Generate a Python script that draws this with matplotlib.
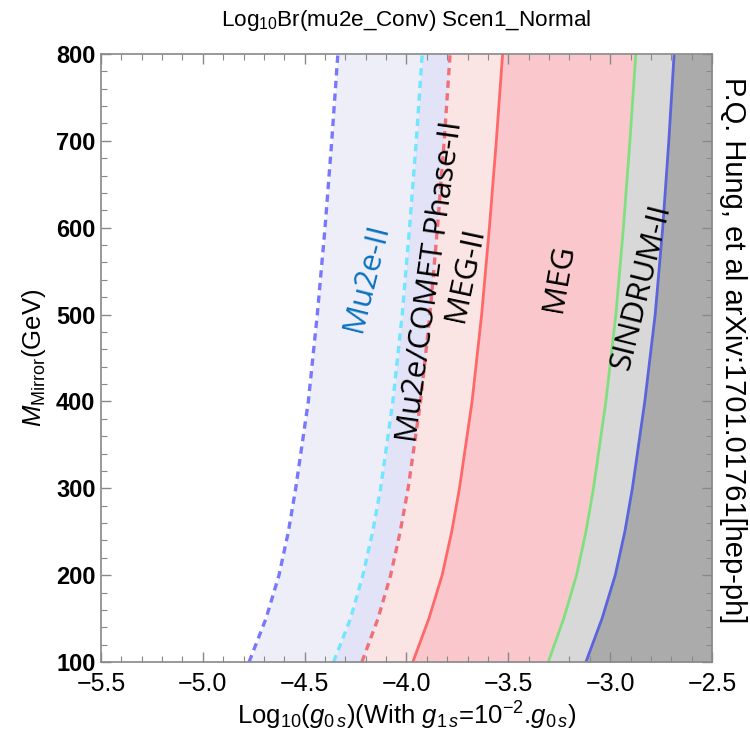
import matplotlib
matplotlib.use('Agg')
import matplotlib.pyplot as plt
from matplotlib.ticker import MultipleLocator

plt.rcParams['font.family'] = ['Liberation Sans', 'DejaVu Sans']
plt.rcParams['mathtext.fontset'] = 'custom'
plt.rcParams['mathtext.rm'] = 'Liberation Sans'
plt.rcParams['mathtext.it'] = 'Liberation Sans:italic'
plt.rcParams['mathtext.bf'] = 'Liberation Sans:bold'

# Data
M = [100, 150, 200, 250, 300, 400, 500, 600, 700, 800]
mu2e_ii = [-4.773, -4.690, -4.626, -4.580, -4.544, -4.482, -4.438, -4.400, -4.367, -4.337]
mu2e_comet = [-4.358, -4.275, -4.214, -4.166, -4.127, -4.067, -4.021, -3.985, -3.952, -3.923]
meg_ii = [-4.219, -4.140, -4.078, -4.031, -3.992, -3.931, -3.885, -3.848, -3.815, -3.786]
meg = [-3.969, -3.890, -3.825, -3.778, -3.740, -3.678, -3.631, -3.593, -3.559, -3.528]
green_lim = [-3.304, -3.228, -3.165, -3.119, -3.082, -3.021, -2.972, -2.935, -2.903, -2.874]
sindrum = [-3.119, -3.040, -2.975, -2.928, -2.891, -2.830, -2.779, -2.742, -2.712, -2.686]

x_ticks = [-5.5, -5.0, -4.5, -4.0, -3.5, -3.0, -2.5]
y_ticks = [100, 200, 300, 400, 500, 600, 700, 800]

labels = ["Mu2e-II", "Mu2e/COMET Phase-II", "MEG-II", "MEG", "SINDRUM-II"]
label_x = [-4.195, -3.882, -3.711, -3.25, -2.850]
label_y = [542, 538, 546, 542, 532]
label_rot = [76, 82, 78, 80, 76]
label_col = ['#0A72C0', 'black', 'black', 'black', 'black']

fig = plt.figure(figsize=(7.5, 7.44), dpi=100)
ax = fig.add_axes([101/750, 1 - 662/744, (712-101)/750, (662-54)/744])

xmax = -2.5
ax.fill_betweenx(M, mu2e_ii, mu2e_comet, color='#EEEEF8', lw=0)
ax.fill_betweenx(M, mu2e_comet, meg_ii, color='#E3E3F8', lw=0)
ax.fill_betweenx(M, meg_ii, meg, color='#FAE4E4', lw=0)
ax.fill_betweenx(M, meg, green_lim, color='#FAC8CC', lw=0)
ax.fill_betweenx(M, green_lim, sindrum, color='#D8D8D8', lw=0)
ax.fill_betweenx(M, sindrum, [xmax]*len(M), color='#ABABAB', lw=0)

ax.plot(mu2e_ii, M, color='#7878FF', lw=2.4, ls=(0, (2.2, 1.6)))
ax.plot(mu2e_comet, M, color='#70E6FF', lw=2.4, ls=(0, (2.2, 1.6)))
ax.plot(meg_ii, M, color='#F0707A', lw=2.4, ls=(0, (2.2, 1.6)))
ax.plot(meg, M, color='#FF6868', lw=2.0)
ax.plot(green_lim, M, color='#80E080', lw=2.0)
ax.plot(sindrum, M, color='#5A64DC', lw=2.0)

for t, x, y, r, c in zip(labels, label_x, label_y, label_rot, label_col):
    ax.text(x, y, t, rotation=r, color=c, fontsize=22.5, ha='center', va='center',
            family=['Open Sans', 'DejaVu Sans'], rotation_mode='anchor')

ax.set_xlim(-5.5, -2.5)
ax.set_ylim(100, 800)
ax.set_xticks(x_ticks)
ax.set_yticks(y_ticks)
ax.set_xticklabels([f"{v:.1f}".replace('-', '\u2212') for v in x_ticks], fontsize=18)
ax.set_yticklabels([str(v) for v in y_ticks], fontsize=17, fontweight='bold')
ax.xaxis.set_minor_locator(MultipleLocator(0.1))
ax.yaxis.set_minor_locator(MultipleLocator(20))
ax.tick_params(which='both', direction='in', top=True, right=True, color='#888888')
ax.tick_params(which='major', length=7, width=1)
ax.tick_params(which='minor', length=4, width=0.8)
ax.tick_params(axis='x', pad=7)
ax.tick_params(axis='y', pad=4)
for s in ax.spines.values():
    s.set_color('#888888')
    s.set_linewidth(1.2)

ax.set_xlabel(r"Log$_{10}$($g_{0\,s}$)(With $g_{1\,s}$=10$^{-2}$.$g_{0\,s}$)", fontsize=18.5, labelpad=3)
ax.set_ylabel(r"$M_{\rm Mirror}$(GeV)", fontsize=18.5, labelpad=6)

fig.text(0.542, 0.972, r"Log$_{10}$Br(mu2e_Conv) Scen1_Normal", fontsize=16.2, ha='center', va='center')
fig.text(733/750, 1 - 350/744, "P.Q. Hung, et al arXiv:1701.01761[hep-ph]", rotation=270,
         fontsize=21, ha='center', va='center')

fig.savefig('out.png', dpi=100)
